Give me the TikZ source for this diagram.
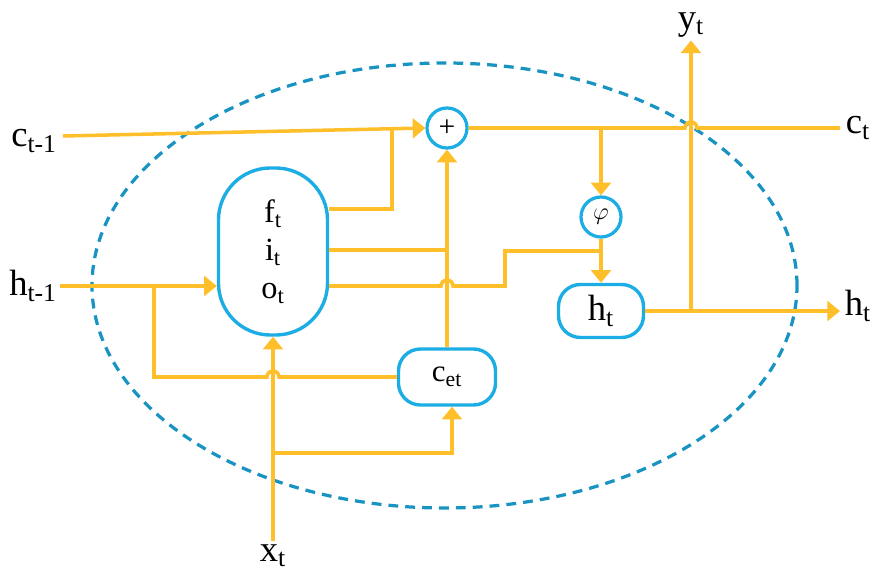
\documentclass[tikz,border=0pt]{standalone}
\usepackage{fontspec}
\setmainfont{Liberation Serif}
\usetikzlibrary{arrows.meta}
\definecolor{lstmorange}{HTML}{FFBF2A}
\definecolor{lstmblue}{HTML}{1CADE4}
\begin{document}
\begin{tikzpicture}[x=0.025cm, y=0.025cm, >={Triangle[width=14pt,length=9pt]},
        wire/.style={draw=lstmorange, line width=2.5pt},
        cellbox/.style={draw=lstmblue, line width=2.4pt, fill=white, rounded corners=0.55cm, inner sep=0pt},
        opcircle/.style={draw=lstmblue, line width=2.3pt, circle, fill=white, minimum size=1cm, inner sep=0pt},
        lbl/.style={inner sep=2pt, font=\fontsize{26}{28}\selectfont}]
    \useasboundingbox (0,0) rectangle (874,573);
    % Cell border
    \draw[lstmblue!85!black, line width=2.3pt, dash pattern=on 7pt off 5pt] (444.5,287.5) ellipse [x radius=352.5, y radius=222.5];
    % Boxes
    \node[cellbox, rounded corners=1.3cm, minimum width=2.725cm, minimum height=4.175cm, align=center,
        font=\fontsize{23}{27}\selectfont] (gate) at (273,321.5) {f\textsubscript{t}\\i\textsubscript{t}\\o\textsubscript{t}};
    \node[cellbox, minimum width=2.425cm, minimum height=1.4cm, font=\fontsize{22}{24}\selectfont] (cet) at (447,196) {c\textsubscript{et}};
    \node[cellbox, minimum width=2.125cm, minimum height=1.325cm, font=\fontsize{26}{28}\selectfont] (ht) at (601,262) {h\textsubscript{t}};
    \node[opcircle, font=\fontsize{21}{22}\selectfont] (plus) at (447,445) {+};
    \node[opcircle, font=\fontsize{16}{17}\selectfont] (phi) at (601,356) {$\varphi$};
    % Labels
    \node[lbl] (cprev) at (34,432) {c\textsubscript{t-1}};
    \node[lbl] (hprev) at (33,287) {h\textsubscript{t-1}};
    \node[lbl] (cnext) at (858,445) {c\textsubscript{t}};
    \node[lbl] (hnext) at (858,267) {h\textsubscript{t}};
    \node[lbl] (yt) at (691,548) {y\textsubscript{t}};
    \node[lbl, anchor=base] (xt) at (273,12) {x\textsubscript{t}};
    \coordinate (cin) at (63,437);
    % Cell state
    \draw[wire, ->] (cin) -- (plus.west);
    \draw[wire] (plus.east) -- (685,445) arc[start angle=180, end angle=0, radius=6] -- (840,445);
    \draw[wire, ->] (phi |- plus) -- (phi.north);
    \draw[wire, ->] (phi.south) -- (ht.north);
    % Gate outputs
    \draw[wire] (gate.east |- 0,364) -- (392,364) -- (392,444.8);
    \draw[wire] (gate.east |- 0,323) -- (plus |- 0,323);
    \draw[wire] (gate.east |- 0,287) -- (441,287) arc[start angle=180, end angle=0, radius=6] -- (505,287) -- (505,322) -- (phi |- 0,322);
    \draw[wire, ->] (cet.north) -- (plus.south);
    % Outputs
    \draw[wire, ->] (ht.east) -- (840,262);
    \draw[wire, ->] (yt |- ht) -- (yt.south);
    % Inputs
    \draw[wire, ->] (hprev.east) -- (gate.west |- hprev);
    \draw[wire] (hprev -| 154,0) -- (154,196) -- (267,196) arc[start angle=180, end angle=0, radius=6] -- (cet.west);
    \draw[wire, ->] (xt.north) -- (gate.south);
    \draw[wire, ->] (xt |- 0,120) -- (452,120) -- (cet.south -| 452,0);
\end{tikzpicture}
\end{document}
